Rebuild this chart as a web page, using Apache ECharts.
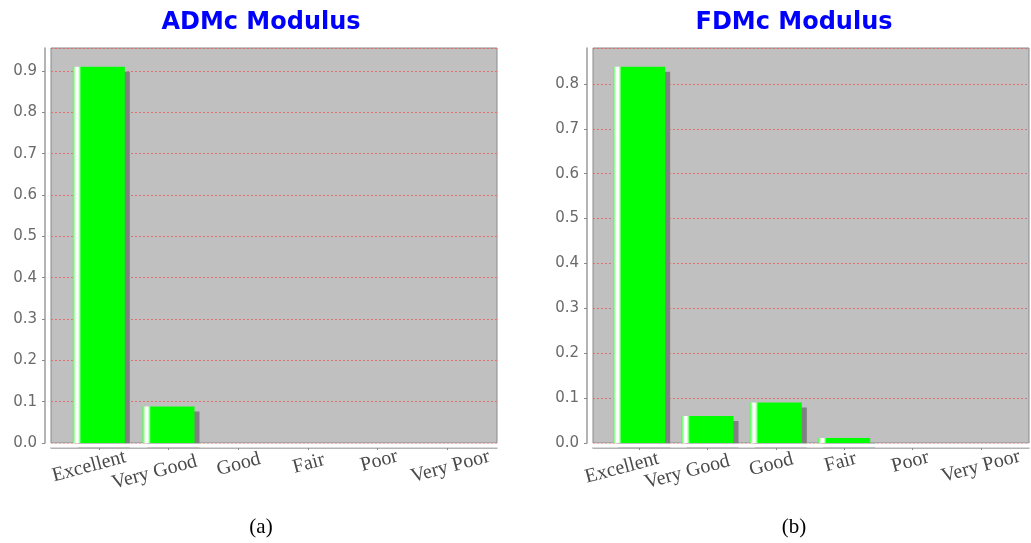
<!DOCTYPE html>
<html>
<head>
<meta charset="utf-8">
<script src="https://cdn.jsdelivr.net/npm/echarts@6/dist/echarts.min.js"></script>
<style>
  html, body { margin: 0; padding: 0; background: #ffffff; }
  #chart { width: 1031px; height: 543px; }
</style>
</head>
<body>
<div id="chart"></div>
<script>
// Rating categories shared by both panels
const categories = ['Excellent', 'Very Good', 'Good', 'Fair', 'Poor', 'Very Poor'];
// Membership degree of each rating
const admcValues = [0.91, 0.088, 0, 0, 0, 0];
const fdmcValues = [0.838, 0.06, 0.09, 0.011, 0, 0];
const panelTitles = ['ADMc Modulus', 'FDMc Modulus'];
const captions = ['(a)', '(b)'];

// Panel geometry: plot box, the inner band holding the categories,
// and small per-label nudges [along, down] for the slanted category labels
const panels = [
  { plotLeft: 51, plotWidth: 446, bandLeft: 64, bandWidth: 418, centre: 256, values: admcValues,
    nudge: [[-13.5, 2.5], [-19, 7], [-3, 3], [-2.5, 2.5], [-1, 0], [-1, 6]] },
  { plotLeft: 593, plotWidth: 436, bandLeft: 605, bandWidth: 410, centre: 789, values: fdmcValues,
    nudge: [[-21, 2], [-25, 5], [-8, 2], [-6.5, 0], [-5, 0], [-4, 5]] }
];
const plotTop = 48;
const plotHeight = 395;

const grid = [], xAxis = [], yAxis = [], series = [], title = [], graphic = [];

panels.forEach(function (p, i) {
  const upper = Math.max.apply(null, p.values) * 1.05;
  // background plot box
  grid.push({
    left: p.plotLeft, top: plotTop, width: p.plotWidth, height: plotHeight,
    show: true, backgroundColor: '#c0c0c0', borderColor: '#8a8a8a', borderWidth: 1
  });
  // category band
  grid.push({ left: p.bandLeft, top: plotTop, width: p.bandWidth, height: plotHeight });

  const labelItems = categories.map(function (name, k) {
    const along = p.nudge[k][0], down = p.nudge[k][1];
    return {
      value: name,
      textStyle: {
        align: 'center', verticalAlign: 'top',
        padding: [down, Math.max(0, -2 * along), 0, Math.max(0, 2 * along)]
      }
    };
  });

  const g0 = 2 * i, g1 = 2 * i + 1;
  xAxis.push({
    type: 'value', gridIndex: g0, min: 0, max: 1, offset: 5,
    axisLine: { show: true, onZero: false, lineStyle: { color: '#9a9a9a', width: 1.5 } },
    axisTick: { show: false }, axisLabel: { show: false }, splitLine: { show: false }
  });
  xAxis.push({
    type: 'category', gridIndex: g1, data: labelItems, offset: 5,
    axisLine: { show: false, onZero: false },
    axisTick: { show: true, alignWithLabel: true, length: 2, lineStyle: { color: '#8a8a8a' } },
    axisLabel: {
      interval: 0, rotate: 15, align: 'center', verticalAlign: 'top', margin: 3,
      fontFamily: 'Liberation Serif', fontSize: 20, color: '#4a4a4a'
    },
    splitLine: { show: false }
  });
  yAxis.push({
    type: 'value', gridIndex: g0, min: 0, max: upper, interval: 0.1, offset: 6,
    axisLine: { show: true, onZero: false, lineStyle: { color: '#9a9a9a', width: 1.5 } },
    axisTick: { show: true, length: 3, lineStyle: { color: '#8a8a8a' } },
    axisLabel: {
      showMaxLabel: false, margin: 8,
      fontFamily: 'DejaVu Sans', fontSize: 15, color: '#6a6a6a',
      formatter: function (v) { return v.toFixed(1); }
    },
    splitLine: { show: true, lineStyle: { color: '#e07070', type: [2, 2], width: 1 } }
  });
  yAxis.push({ type: 'value', gridIndex: g1, min: 0, max: upper, show: false });

  series.push({
    type: 'bar', xAxisIndex: 2 * i + 1, yAxisIndex: 2 * i + 1,
    data: p.values, barWidth: 52, z: 2,
    itemStyle: {
      color: new echarts.graphic.LinearGradient(0, 0, 1, 0, [
        { offset: 0, color: '#40ff40' },
        { offset: 0.04, color: '#c0ffc0' },
        { offset: 0.06, color: '#ffffff' },
        { offset: 0.1, color: '#ffffff' },
        { offset: 0.13, color: '#a0ffa0' },
        { offset: 0.16, color: '#00ff00' },
        { offset: 1, color: '#00ff00' }
      ]),
      shadowColor: '#808080', shadowBlur: 0, shadowOffsetX: 5, shadowOffsetY: 5
    }
  });

  title.push({
    text: panelTitles[i], left: p.centre, top: 6, textAlign: 'center',
    textStyle: { fontFamily: 'DejaVu Sans', fontWeight: 'bold', fontSize: 24, color: '#0000ff' }
  });
  title.push({
    text: captions[i], left: p.centre, top: 512, textAlign: 'center',
    textStyle: { fontFamily: 'Liberation Serif', fontWeight: 'normal', fontSize: 21, color: '#000000' }
  });

  // keep the bar shadows inside the plot box
  graphic.push({
    type: 'rect', z: 50, silent: true,
    shape: { x: p.plotLeft, y: plotTop + plotHeight + 0.5, width: p.plotWidth + 8, height: 4 },
    style: { fill: '#ffffff' }
  });
});

const chart = echarts.init(document.getElementById('chart'), null, { renderer: 'canvas' });
chart.setOption({
  animation: false,
  backgroundColor: '#ffffff',
  title: title, grid: grid, xAxis: xAxis, yAxis: yAxis, series: series, graphic: graphic
});
</script>
</body>
</html>
